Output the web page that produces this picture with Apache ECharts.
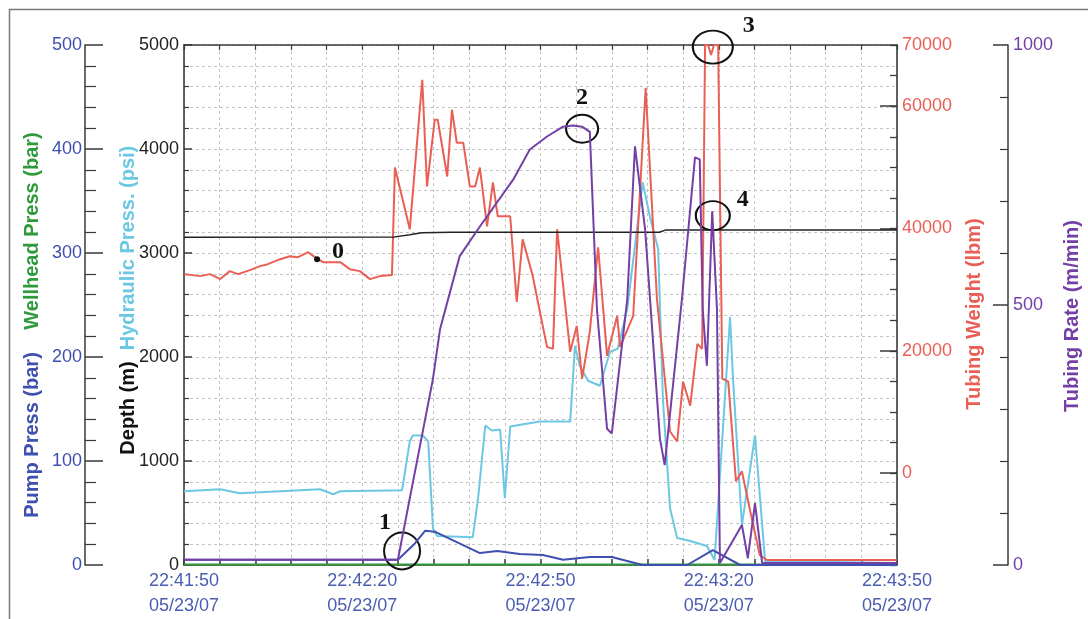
<!DOCTYPE html>
<html>
<head>
<meta charset="utf-8">
<script src="https://cdn.jsdelivr.net/npm/echarts@6/dist/echarts.min.js"></script>
<style>
html,body{margin:0;padding:0;background:#fff;}
#chart{width:1088px;height:619px;}
</style>
</head>
<body>
<div id="chart"></div>
<script>
// ---- tick labels ----
const timeTickLabels = ['22:41:50', '22:42:20', '22:42:50', '22:43:20', '22:43:50'];
const dateLabel = '05/23/07';
const weightLabelValues = [0, 20000, 40000, 60000, 70000];
const weightMajorTicks = [0, 20000, 40000, 60000];

// ---- series data (time in seconds after 22:41:50) ----
const depthTimes = [0, 35.5, 38, 40, 45, 80, 81, 120];
const depthValues = [3152, 3155, 3175, 3195, 3200, 3200, 3220, 3222];

const pumpTimes = [0, 36, 38.9, 40.6, 42.2, 49.8, 52.7, 56.5, 60.4, 63.8, 68.3, 72.0, 77.2, 84.7, 89.0, 93.6, 120];
const pumpValues = [5, 5, 21, 33, 32, 11.5, 13.4, 10.5, 9.6, 5, 7.7, 7.7, 0, 0, 14.4, 0, 0];

const wellheadTimes = [0, 120];
const wellheadValues = [0.5, 0.5];

const hydraulicTimes = [0, 6.1, 9.4, 16.2, 22.9, 25.1, 26.3, 36.7, 38.0, 38.5, 40.2, 41.1, 41.9, 42.6, 48.6, 49.5, 50.7, 51.8, 53.2, 54.0, 54.9, 59.9, 65.0, 65.8, 66.6, 68.0, 70.0, 71.7, 73.0, 74.6, 77.2, 78.4, 79.8, 80.6, 81.8, 83.0, 85.2, 88.0, 89.3, 91.9, 92.4, 93.9, 96.1, 97.8, 120];
const hydraulicValues = [709, 728, 690, 709, 728, 680, 709, 718, 1188, 1245, 1245, 1188, 354, 278, 268, 642, 1341, 1293, 1303, 642, 1331, 1379, 1379, 2107, 1916, 1772, 1724, 2050, 2079, 2462, 3678, 3353, 3037, 1600, 546, 259, 230, 182, 48, 2385, 1791, 383, 1245, 38, 19];

const weightTimes = [0, 2.7, 4.4, 6.1, 7.7, 9.1, 11.1, 12.8, 14.1, 16.2, 17.8, 19.2, 20.9, 22.2, 23.4, 26.3, 27.9, 29.6, 31.3, 33.0, 35.0, 35.5, 38.0, 40.1, 40.9, 42.2, 42.7, 44.3, 45.1, 45.9, 47.0, 48.1, 49.0, 49.8, 51.0, 52.0, 52.8, 54.9, 56.0, 57.0, 58.7, 59.9, 61.1, 62.1, 62.8, 65.0, 66.1, 67.0, 68.3, 69.7, 71.2, 72.9, 73.4, 75.6, 77.7, 79.6, 81.8, 83.0, 84.0, 85.2, 86.4, 87.2, 87.7, 88.2, 88.7, 89.2, 89.9, 90.6, 91.6, 92.9, 93.9, 95.3, 96.9, 98.1, 120];
const weightValues = [32547, 32221, 32547, 31733, 33035, 32547, 33198, 33850, 34175, 34989, 35478, 35315, 36129, 35200, 34501, 34501, 33361, 33035, 31733, 32221, 32384, 49971, 39875, 64301, 46877, 57787, 57787, 48505, 59415, 54042, 54042, 46877, 46877, 49971, 40363, 47528, 41992, 41992, 27987, 38246, 32221, 26359, 20659, 20334, 39875, 19845, 24079, 15449, 23102, 36943, 19194, 25708, 20659, 25708, 62998, 28476, 6818, 5190, 14960, 11052, 21148, 20334, 70000, 70000, 68372, 70000, 70000, 15449, 14960, -1324, 304, -6209, -13374, -14188, -14188];

const rateTimes = [0, 36, 41.9, 43.1, 46.4, 49.8, 55.4, 58.2, 61.1, 63.8, 65.5, 67.0, 68.3, 69.5, 71.2, 72.0, 74.6, 75.9, 77.6, 80.1, 80.9, 83.8, 86.0, 86.8, 87.3, 88.0, 88.9, 89.7, 90.2, 93.9, 94.9, 96.1, 97.3, 120];
const rateValues = [10, 10, 358, 454, 594, 651, 741, 799, 824, 843, 845, 843, 833, 492, 262, 253, 511, 805, 646, 243, 192, 511, 784, 780, 492, 383, 680, 492, 4, 77, 13, 119, 4, 4];

// annotations (data coordinates on the tubing-rate axis)
const annotationLabels = ['1', '2', '3', '4'];
const annotationTimes = [36.7, 67.0, 89.0, 89.0];
const annotationRates = [27, 839, 996, 672];
const markerZeroTime = 22.4;
const markerZeroWeight = 34989;

// ---- build ----
const zip = (t, v) => t.map((x, i) => [x, v[i]]);
const FONT = '"Liberation Sans", Arial, Helvetica, sans-serif';
const SERIF = '"Liberation Serif", "Times New Roman", serif';
const C = {
  pump: '#3f4fae', wellhead: '#2f9a3c', hydraulic: '#6cc8e2', depth: '#222222',
  weight: '#ea5f55', rate: '#7440a6', xlab: '#4b5db0'
};
const gridLine = { show: true, lineStyle: { color: '#c4c4c4', type: [3, 3], width: 1 } };
const frame = { show: true, onZero: false, lineStyle: { color: '#3a3a3a', width: 1.6 } };
const plain = v => String(v);

const ellipseSizes = [[36, 37], [32, 28], [40, 33], [34, 29]];
const labelOffsets = [[-17, -28], [0, -31], [36, -21], [30, -16]];

const chart = echarts.init(document.getElementById('chart'));
chart.setOption({
  backgroundColor: '#ffffff',
  animation: false,
  grid: { left: 184, right: 191, top: 45, bottom: 52, containLabel: false },
  xAxis: [
    {
      type: 'value', position: 'bottom', min: 0, max: 120, interval: 6,
      axisLine: frame,
      axisTick: { show: true, inside: true, length: 6, lineStyle: { color: '#3a3a3a', width: 1.5 } },
      splitLine: gridLine,
      axisLabel: {
        color: C.xlab, fontFamily: FONT, fontSize: 18, lineHeight: 25, margin: 4,
        formatter: v => {
          const i = Math.round(v / 30);
          return Math.abs(v - i * 30) < 1e-6 ? timeTickLabels[i] + '\n' + dateLabel : '';
        }
      }
    },
    {
      type: 'value', position: 'top', min: 0, max: 120, interval: 6,
      axisLine: frame,
      axisTick: { show: true, inside: true, length: 5, lineStyle: { color: '#3a3a3a', width: 1.2 } },
      splitLine: { show: false }, axisLabel: { show: false }
    }
  ],
  yAxis: [
    { // 0 depth / hydraulic
      type: 'value', position: 'left', min: 0, max: 5000, interval: 1000,
      axisLine: frame,
      axisTick: { show: true, inside: true, length: 8, lineStyle: { color: '#3a3a3a', width: 1.5 } },
      minorTick: { show: true, splitNumber: 5, length: 5, lineStyle: { color: '#3a3a3a', width: 1.2 } },
      splitLine: gridLine,
      minorSplitLine: gridLine,
      axisLabel: { color: '#222', fontFamily: FONT, fontSize: 18, margin: 5, formatter: plain }
    },
    { // 1 pump / wellhead
      type: 'value', position: 'left', offset: 99, min: 0, max: 500, interval: 100,
      axisLine: { show: true, onZero: false, lineStyle: { color: '#3a3a3a', width: 1.5 } },
      axisTick: { show: true, inside: true, length: 18, lineStyle: { color: '#3a3a3a', width: 1.5 } },
      minorTick: { show: true, splitNumber: 5, length: 11, lineStyle: { color: '#3a3a3a', width: 1.2 } },
      splitLine: { show: false },
      axisLabel: { color: C.pump, fontFamily: FONT, fontSize: 18, margin: 3, formatter: plain }
    },
    { // 2 tubing weight
      type: 'value', position: 'right', offset: 0, min: -15000, max: 70000, interval: 5000,
      axisLine: frame,
      axisTick: { show: true, inside: true, length: 7, lineStyle: { color: '#3a3a3a', width: 1.3 } },
      splitLine: { show: false },
      axisLabel: {
        color: C.weight, fontFamily: FONT, fontSize: 18, margin: 5,
        formatter: v => (weightLabelValues.indexOf(v) >= 0 ? String(v) : '')
      }
    },
    { // 3 tubing weight major ticks
      type: 'value', position: 'right', offset: 0, min: -15000, max: 70000, interval: 5000,
      axisLine: { show: false, onZero: false },
      axisTick: { show: true, inside: true, length: 17, customValues: weightMajorTicks, lineStyle: { color: '#3a3a3a', width: 1.5 } },
      splitLine: { show: false },
      axisLabel: { show: false }
    },
    { // 4 tubing rate
      type: 'value', position: 'right', offset: 111, min: 0, max: 1000, interval: 500,
      axisLine: { show: true, onZero: false, lineStyle: { color: '#3a3a3a', width: 1.5 } },
      axisTick: { show: true, inside: true, length: 15, lineStyle: { color: '#3a3a3a', width: 1.5 } },
      minorTick: { show: true, splitNumber: 5, length: 8, lineStyle: { color: '#3a3a3a', width: 1.2 } },
      splitLine: { show: false },
      axisLabel: { color: C.rate, fontFamily: FONT, fontSize: 18, margin: 5, formatter: plain }
    }
  ],
  series: [
    { name: 'Hydraulic Press. (psi)', type: 'line', xAxisIndex: 0, yAxisIndex: 0, data: zip(hydraulicTimes, hydraulicValues),
      showSymbol: false, lineStyle: { color: C.hydraulic, width: 2 }, z: 2 },
    { name: 'Tubing Weight (lbm)', type: 'line', xAxisIndex: 0, yAxisIndex: 2, data: zip(weightTimes, weightValues),
      showSymbol: false, lineStyle: { color: C.weight, width: 2 }, z: 3,
      markPoint: {
        symbol: 'circle', symbolSize: 6, silent: true,
        itemStyle: { color: '#111' },
        label: { show: true, position: 'inside', offset: [21, -7], formatter: '0',
          fontFamily: SERIF, fontWeight: 'bold', fontSize: 24, color: '#111' },
        data: [{ coord: [markerZeroTime, markerZeroWeight] }]
      } },
    { name: 'Depth (m)', type: 'line', xAxisIndex: 0, yAxisIndex: 0, data: zip(depthTimes, depthValues),
      showSymbol: false, lineStyle: { color: C.depth, width: 1.5 }, z: 4 },
    { name: 'Wellhead Press (bar)', type: 'line', xAxisIndex: 0, yAxisIndex: 1, data: zip(wellheadTimes, wellheadValues),
      showSymbol: false, lineStyle: { color: C.wellhead, width: 2 }, z: 4 },
    { name: 'Pump Press (bar)', type: 'line', xAxisIndex: 0, yAxisIndex: 1, data: zip(pumpTimes, pumpValues),
      showSymbol: false, lineStyle: { color: C.pump, width: 2 }, z: 5 },
    { name: 'Tubing Rate (m/min)', type: 'line', xAxisIndex: 0, yAxisIndex: 4, data: zip(rateTimes, rateValues),
      showSymbol: false, lineStyle: { color: C.rate, width: 2 }, z: 6,
      markPoint: {
        silent: true,
        data: annotationLabels.map((lab, i) => ({
          coord: [annotationTimes[i], annotationRates[i]],
          symbol: 'circle', symbolSize: ellipseSizes[i],
          itemStyle: { color: 'rgba(0,0,0,0)', borderColor: '#111', borderWidth: 2 },
          label: { show: true, position: 'inside', offset: labelOffsets[i], formatter: lab,
            fontFamily: SERIF, fontWeight: 'bold', fontSize: 24, color: '#111' }
        }))
      } }
  ],
  graphic: [
    { type: 'rect', silent: true, z: -1, shape: { x: 9.5, y: 9.5, width: 1100, height: 640 },
      style: { fill: 'none', stroke: '#7a7a7a', lineWidth: 1.5 } },
    { type: 'text', x: 32, y: 435, rotation: Math.PI / 2,
      style: { text: 'Pump Press (bar)', fill: C.pump, font: 'bold 20px ' + FONT, textAlign: 'center', textVerticalAlign: 'middle' } },
    { type: 'text', x: 32, y: 231, rotation: Math.PI / 2,
      style: { text: 'Wellhead Press (bar)', fill: C.wellhead, font: 'bold 20px ' + FONT, textAlign: 'center', textVerticalAlign: 'middle' } },
    { type: 'text', x: 128, y: 248, rotation: Math.PI / 2,
      style: { text: 'Hydraulic Press. (psi)', fill: C.hydraulic, font: 'bold 20px ' + FONT, textAlign: 'center', textVerticalAlign: 'middle' } },
    { type: 'text', x: 128, y: 408, rotation: Math.PI / 2,
      style: { text: 'Depth (m)', fill: '#111', font: 'bold 20px ' + FONT, textAlign: 'center', textVerticalAlign: 'middle' } },
    { type: 'text', x: 974, y: 314, rotation: Math.PI / 2,
      style: { text: 'Tubing Weight (lbm)', fill: C.weight, font: 'bold 20px ' + FONT, textAlign: 'center', textVerticalAlign: 'middle' } },
    { type: 'text', x: 1072, y: 316, rotation: Math.PI / 2,
      style: { text: 'Tubing Rate (m/min)', fill: C.rate, font: 'bold 20px ' + FONT, textAlign: 'center', textVerticalAlign: 'middle' } }
  ]
});
</script>
</body>
</html>
